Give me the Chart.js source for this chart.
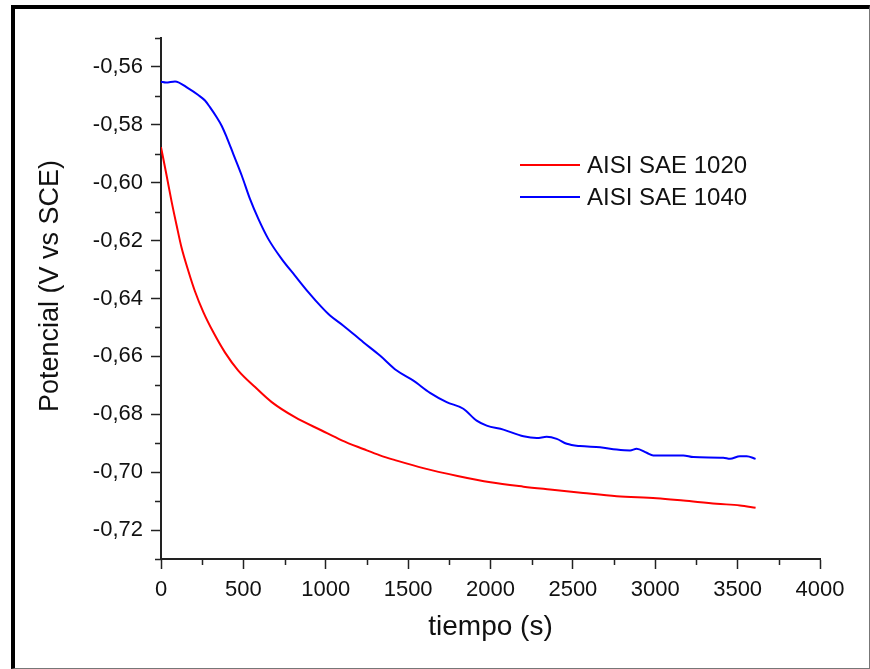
<!DOCTYPE html>
<html>
<head>
<meta charset="utf-8">
<script src="https://cdn.jsdelivr.net/npm/chart.js@4.4.1/dist/chart.umd.min.js"></script>
<style>
  html, body { margin: 0; padding: 0; background: #fff; }
  #wrap { position: relative; width: 870px; height: 669px; overflow: hidden; }
  #frame {
    position: absolute; left: 11px; top: 5px; right: 0; bottom: 0;
    box-sizing: border-box;
    border-left: 4px solid #000; border-top: 4px solid #000;
    border-right: 1px solid #777; border-bottom: 1px solid #777;
  }
  #chart { position: absolute; left: 0; top: 0; }
</style>
</head>
<body>
<div id="wrap">
  <div id="frame"></div>
  <canvas id="chart" width="870" height="669"></canvas>
</div>
<script>
// ------------------- DATA -------------------
const label1020 = "AISI SAE 1020";
const label1040 = "AISI SAE 1040";

// AISI SAE 1020 (red)
const time1020 = [0, 34, 65, 95, 125, 166, 206, 257, 317, 388, 469, 571, 672, 813, 975, 1097, 1228, 1329, 1431, 1592, 1800, 2000, 2200, 2361, 2563, 2766, 3008, 3170, 3372, 3514, 3609];
const pot1020 = [-0.5877, -0.5975, -0.6067, -0.6148, -0.6225, -0.6305, -0.6375, -0.6447, -0.6516, -0.6586, -0.6649, -0.6706, -0.6758, -0.6810, -0.6856, -0.6890, -0.6920, -0.6942, -0.6960, -0.6986, -0.7013, -0.7035, -0.7050, -0.7060, -0.7072, -0.7083, -0.7090, -0.7098, -0.7109, -0.7115, -0.7123];

// AISI SAE 1040 (blue)
const time1040 = [0, 30, 85, 166, 226, 267, 297, 338, 368, 399, 439, 490, 540, 591, 651, 732, 813, 894, 975, 1026, 1107, 1228, 1329, 1431, 1532, 1633, 1734, 1835, 1916, 1977, 2078, 2200, 2281, 2341, 2402, 2463, 2543, 2665, 2766, 2847, 2887, 2948, 2988, 3170, 3231, 3413, 3454, 3514, 3555, 3609];
const pot1040 = [-0.5651, -0.5654, -0.5650, -0.5674, -0.5697, -0.5716, -0.5739, -0.5774, -0.5803, -0.5843, -0.5901, -0.5975, -0.6056, -0.6125, -0.6194, -0.6263, -0.6321, -0.6378, -0.6430, -0.6459, -0.6494, -0.6551, -0.6597, -0.6649, -0.6684, -0.6726, -0.6758, -0.6781, -0.6822, -0.6839, -0.6853, -0.6876, -0.6882, -0.6878, -0.6885, -0.6902, -0.6910, -0.6914, -0.6922, -0.6925, -0.6919, -0.6933, -0.6942, -0.6942, -0.6948, -0.6950, -0.6954, -0.6945, -0.6945, -0.6954];

// ticks
const xMajor = [0, 500, 1000, 1500, 2000, 2500, 3000, 3500, 4000];
const xMinor = [250, 750, 1250, 1750, 2250, 2750, 3250, 3750];
const yMajor = [-0.72, -0.70, -0.68, -0.66, -0.64, -0.62, -0.60, -0.58, -0.56];
const yMinor = [-0.73, -0.71, -0.69, -0.67, -0.65, -0.63, -0.61, -0.59, -0.57, -0.55];

const FONT = "'Liberation Sans', Arial, sans-serif";
const AXIS = "#222";

const toPoints = (xs, ys) => xs.map((x, i) => ({ x: x, y: ys[i] }));

// ------------------- PLUGINS -------------------
// short minor ticks on both axes
const minorTicks = {
  id: "minorTicks",
  afterDraw(chart) {
    const ctx = chart.ctx;
    const xs = chart.scales.x, ys = chart.scales.y;
    const area = chart.chartArea;
    ctx.save();
    ctx.strokeStyle = AXIS;
    ctx.lineWidth = 1.5;
    ctx.beginPath();
    xMinor.forEach(v => {
      const px = Math.round(xs.getPixelForValue(v)) + 0.5;
      ctx.moveTo(px, area.bottom);
      ctx.lineTo(px, area.bottom + 6);
    });
    yMinor.forEach(v => {
      const py = Math.round(ys.getPixelForValue(v)) + 0.5;
      ctx.moveTo(area.left, py);
      ctx.lineTo(area.left - 6, py);
    });
    ctx.stroke();
    ctx.restore();
  }
};

// legend drawn inside the plot
const innerLegend = {
  id: "innerLegend",
  afterDraw(chart) {
    const ctx = chart.ctx;
    const rows = [165, 197];
    ctx.save();
    ctx.font = "24px " + FONT;
    ctx.textBaseline = "middle";
    chart.data.datasets.forEach((ds, i) => {
      const y = rows[i];
      ctx.strokeStyle = ds.borderColor;
      ctx.lineWidth = 2;
      ctx.beginPath();
      ctx.moveTo(520, y);
      ctx.lineTo(580, y);
      ctx.stroke();
      ctx.fillStyle = "#111";
      ctx.fillText(ds.label, 587, y + 1);
    });
    ctx.restore();
  }
};

// y title drawn by hand so it can sit a little above the axis centre
const yTitle = {
  id: "yTitle",
  afterDraw(chart) {
    const ctx = chart.ctx;
    ctx.save();
    ctx.translate(51, 286);
    ctx.rotate(-Math.PI / 2);
    ctx.font = "27px " + FONT;
    ctx.fillStyle = "#111";
    ctx.textAlign = "center";
    ctx.textBaseline = "middle";
    ctx.fillText("Potencial (V vs SCE)", 0, 0);
    ctx.restore();
  }
};

// ------------------- CHART -------------------
const ctx = document.getElementById("chart").getContext("2d");
new Chart(ctx, {
  type: "line",
  data: {
    datasets: [
      {
        label: label1020,
        data: toPoints(time1020, pot1020),
        borderColor: "#ff0000",
        borderWidth: 2,
        pointRadius: 0,
        cubicInterpolationMode: "monotone"
      },
      {
        label: label1040,
        data: toPoints(time1040, pot1040),
        borderColor: "#0000ff",
        borderWidth: 2,
        pointRadius: 0,
        cubicInterpolationMode: "monotone"
      }
    ]
  },
  options: {
    responsive: false,
    animation: false,
    layout: { padding: { left: 0, top: 38, right: 50, bottom: 0 } },
    plugins: {
      legend: { display: false },
      tooltip: { enabled: false }
    },
    scales: {
      x: {
        type: "linear",
        min: 0,
        max: 4000,
        afterBuildTicks: s => { s.ticks = xMajor.map(v => ({ value: v })); },
        afterFit: s => { s.height = 110; },
        border: { display: true, color: AXIS, width: 2 },
        grid: { drawOnChartArea: false, drawTicks: true, tickLength: 10, tickColor: AXIS, tickWidth: 1.5 },
        ticks: {
          color: "#111",
          padding: 8,
          maxRotation: 0,
          font: { family: FONT, size: 22 },
          callback: v => String(v)
        },
        title: { display: true, text: "tiempo (s)", color: "#111", padding: { top: 0, bottom: 25 }, font: { family: FONT, size: 28 } }
      },
      y: {
        type: "linear",
        min: -0.73,
        max: -0.55,
        afterBuildTicks: s => { s.ticks = yMajor.map(v => ({ value: v })); },
        afterFit: s => { s.width = 161; },
        border: { display: true, color: AXIS, width: 2 },
        grid: { drawOnChartArea: false, drawTicks: true, tickLength: 10, tickColor: AXIS, tickWidth: 1.5 },
        ticks: {
          color: "#111",
          padding: 8,
          font: { family: FONT, size: 22 },
          callback: v => v.toFixed(2).replace(".", ",")
        }
      }
    }
  },
  plugins: [minorTicks, innerLegend, yTitle]
});
</script>
</body>
</html>
